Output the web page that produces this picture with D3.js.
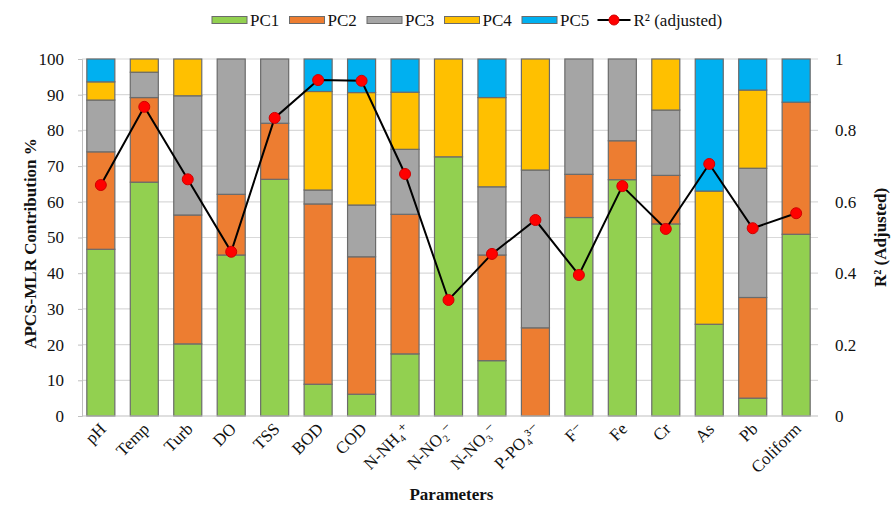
<!DOCTYPE html>
<html>
<head>
<meta charset="utf-8">
<script src="https://cdn.jsdelivr.net/npm/d3@7/dist/d3.min.js"></script>
<style>
  html, body { margin: 0; padding: 0; background: #fff; }
  svg text { font-family: "Liberation Serif", "Tinos", "DejaVu Serif", serif; }
</style>
</head>
<body>
<svg id="chart" width="894" height="506"></svg>
<script>
// Water-quality parameters and the APCS-MLR contribution of each principal component (%)
const categories = ["pH", "Temp", "Turb", "DO", "TSS", "BOD", "COD", "N-NH₄⁺", "N-NO₂⁻", "N-NO₃⁻", "P-PO₄³⁻", "F⁻", "Fe", "Cr", "As", "Pb", "Coliform"];
const pc1 = [46.7, 65.5, 20.2, 45.1, 66.3, 8.9, 6.1, 17.4, 72.6, 15.5, 0, 55.6, 66.2, 53.8, 25.7, 5.0, 50.9];
const pc2 = [27.3, 23.7, 36.1, 17.0, 15.7, 50.5, 38.5, 39.1, 0, 29.6, 24.7, 12.1, 10.9, 13.6, 0, 28.2, 37.0];
const pc3 = [14.5, 7.1, 33.4, 37.9, 18.0, 3.9, 14.5, 18.2, 0, 19.1, 44.2, 32.3, 22.9, 18.3, 0, 36.2, 0];
const pc4 = [5.1, 3.7, 10.3, 0, 0, 27.6, 31.5, 16.0, 27.4, 25.0, 31.1, 0, 0, 14.3, 37.3, 21.9, 0];
const pc5 = [6.4, 0, 0, 0, 0, 9.1, 9.4, 9.3, 0, 10.8, 0, 0, 0, 0, 37.0, 8.7, 12.1];
// Adjusted R² of each regression model
const r2 = [0.647, 0.866, 0.663, 0.460, 0.835, 0.941, 0.939, 0.678, 0.325, 0.454, 0.549, 0.395, 0.644, 0.524, 0.706, 0.526, 0.568];

const seriesKeys = ["PC1", "PC2", "PC3", "PC4", "PC5"];
const seriesColors = ["#92D050", "#ED7D31", "#A5A5A5", "#FFC000", "#00B0F0"];
const leftTicks = d3.range(0, 101, 10);
const rightTicks = [0, 0.2, 0.4, 0.6, 0.8, 1];

const FONT = '"Liberation Serif", "Tinos", "DejaVu Serif", serif';

const rows = categories.map((c, i) => ({
  name: c, PC1: pc1[i], PC2: pc2[i], PC3: pc3[i], PC4: pc4[i], PC5: pc5[i], r2: r2[i]
}));

const svg = d3.select("#chart");
const margin = { left: 79, right: 76, top: 59, bottom: 90 };
const W = 894, H = 506;
const x0 = margin.left, x1 = W - margin.right;
const yTop = margin.top, yBot = H - margin.bottom;

const x = d3.scaleBand().domain(categories).range([x0, x1]).paddingInner(0.355).paddingOuter(0.18);
const y = d3.scaleLinear().domain([0, 100]).range([yBot, yTop]);
const yR = d3.scaleLinear().domain([0, 1]).range([yBot, yTop]);
const color = d3.scaleOrdinal().domain(seriesKeys).range(seriesColors);

// horizontal gridlines
svg.append("g")
  .selectAll("line")
  .data(leftTicks.filter(t => t > 0))
  .join("line")
  .attr("x1", 82).attr("x2", x1)
  .attr("y1", d => y(d)).attr("y2", d => y(d))
  .attr("stroke", "#d9d9d9").attr("stroke-width", 1.2);

// left axis
const gl = svg.append("g").attr("transform", `translate(82,0)`)
  .call(d3.axisLeft(y).tickValues(leftTicks).tickSize(4).tickPadding(14));
gl.attr("font-family", FONT);
gl.select(".domain").attr("stroke", "#bfbfbf");
gl.selectAll(".tick line").attr("stroke", "#bfbfbf");
gl.selectAll("text").attr("font-size", 17).attr("fill", "#111").style("font-family", FONT);

// right axis
const gr = svg.append("g").attr("transform", `translate(${x1 + 4},0)`)
  .call(d3.axisRight(yR).tickValues(rightTicks).tickFormat(d3.format("~g")).tickSize(0).tickPadding(13));
gr.attr("font-family", FONT);
gr.select(".domain").remove();
gr.selectAll("text").attr("font-size", 17).attr("fill", "#111").style("font-family", FONT);

// stacked bars
const stacked = d3.stack().keys(seriesKeys)(rows);
svg.append("g")
  .selectAll("g")
  .data(stacked)
  .join("g")
  .attr("fill", d => color(d.key))
  .selectAll("rect")
  .data(d => d.filter(s => s[1] - s[0] > 0))
  .join("rect")
  .attr("x", d => x(d.data.name))
  .attr("width", x.bandwidth())
  .attr("y", d => y(d[1]))
  .attr("height", d => y(d[0]) - y(d[1]))
  .attr("stroke", "#6b6b6b")
  .attr("stroke-width", 1.2);

// bottom axis line
svg.append("line")
  .attr("x1", 82).attr("x2", x1)
  .attr("y1", yBot).attr("y2", yBot)
  .attr("stroke", "#bfbfbf").attr("stroke-width", 1.2);

// category labels, slanted
svg.append("g")
  .selectAll("text")
  .data(categories)
  .join("text")
  .attr("transform", d => `translate(${x(d) + x.bandwidth() / 2 + 6},${yBot + 14}) rotate(-45)`)
  .attr("text-anchor", "end")
  .attr("font-size", 17)
  .attr("fill", "#111")
  .style("font-family", FONT)
  .text(d => d);

// R² line and markers
const cx = d => x(d.name) + x.bandwidth() / 2;
svg.append("path")
  .datum(rows)
  .attr("fill", "none")
  .attr("stroke", "#000")
  .attr("stroke-width", 2)
  .attr("d", d3.line().x(cx).y(d => yR(d.r2)));
svg.append("g")
  .selectAll("circle")
  .data(rows)
  .join("circle")
  .attr("cx", cx)
  .attr("cy", d => yR(d.r2))
  .attr("r", 5.5)
  .attr("fill", "#FF0000")
  .attr("stroke", "#d00000")
  .attr("stroke-width", 1);

// axis titles
svg.append("text")
  .attr("transform", `translate(36,${(yTop + yBot) / 2 + 6}) rotate(-90)`)
  .attr("text-anchor", "middle")
  .attr("font-size", 17).attr("font-weight", "bold").attr("fill", "#111")
  .style("font-family", FONT)
  .text("APCS-MLR Contribution  %");
svg.append("text")
  .attr("transform", `translate(886,${(yTop + yBot) / 2}) rotate(-90)`)
  .attr("text-anchor", "middle")
  .attr("font-size", 17).attr("font-weight", "bold").attr("fill", "#111")
  .style("font-family", FONT)
  .text("R² (Adjusted)");
svg.append("text")
  .attr("x", (x0 + x1) / 2 + 3).attr("y", 500)
  .attr("text-anchor", "middle")
  .attr("font-size", 17).attr("font-weight", "bold").attr("fill", "#111")
  .style("font-family", FONT)
  .text("Parameters");

// legend
const legend = svg.append("g");
const legendX = 212, legendStep = 77.5, legendY = 20;
seriesKeys.forEach((k, i) => {
  const lx = legendX + i * legendStep;
  legend.append("rect")
    .attr("x", lx).attr("y", legendY - 3.5)
    .attr("width", 35).attr("height", 7)
    .attr("fill", color(k)).attr("stroke", "#6b6b6b").attr("stroke-width", 1);
  legend.append("text")
    .attr("x", lx + 38).attr("y", legendY + 6)
    .attr("font-size", 17).attr("fill", "#111")
    .style("font-family", FONT)
    .text(k);
});
const llx = legendX + 5 * legendStep - 2;
legend.append("line")
  .attr("x1", llx).attr("x2", llx + 33)
  .attr("y1", legendY).attr("y2", legendY)
  .attr("stroke", "#000").attr("stroke-width", 2);
legend.append("circle")
  .attr("cx", llx + 16.5).attr("cy", legendY).attr("r", 5)
  .attr("fill", "#FF0000").attr("stroke", "#d00000");
legend.append("text")
  .attr("x", llx + 36).attr("y", legendY + 6)
  .attr("font-size", 17).attr("fill", "#111")
  .style("font-family", FONT)
  .text("R² (adjusted)");
</script>
</body>
</html>
